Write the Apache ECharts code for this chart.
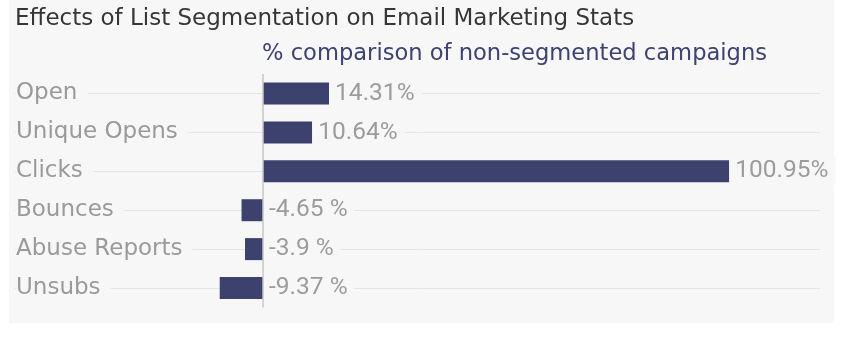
<!DOCTYPE html>
<html>
<head>
<meta charset="utf-8">
<script src="https://cdn.jsdelivr.net/npm/echarts@6/dist/echarts.min.js"></script>
<style>
  html, body { margin: 0; padding: 0; background: #ffffff; }
  #panel { position: absolute; left: 9px; top: 0; width: 825px; height: 323px; background: #f7f7f7; }
  #chart { position: absolute; left: 0; top: 0; width: 856px; height: 346px; }
</style>
</head>
<body>
<div id="panel"></div>
<div id="chart"></div>
<script>
const titleText = 'Effects of List Segmentation on Email Marketing Stats';
const subtitleText = '% comparison of non-segmented campaigns';
const categories = ['Open', 'Unique Opens', 'Clicks', 'Bounces', 'Abuse Reports', 'Unsubs'];
const values = [14.31, 10.64, 100.95, -4.65, -3.9, -9.37];
const valueLabels = ['14.31%', '10.64%', '100.95%', '-4.65 %', '-3.9 %', '-9.37 %'];

const PANEL = '#f7f7f7';
const chart = echarts.init(document.getElementById('chart'), null, { renderer: 'canvas' });

chart.setOption({
  animation: false,
  backgroundColor: 'transparent',
  graphic: [
    {
      type: 'text', x: 15, y: 19, z: 10,
      style: { text: titleText, fill: '#363636', font: '23px "DejaVu Sans"', align: 'left', verticalAlign: 'middle' }
    },
    {
      type: 'text', x: 262, y: 54, z: 10,
      style: { text: subtitleText, fill: '#3d4270', font: '22.6px "DejaVu Sans"', align: 'left', verticalAlign: 'middle' }
    }
  ],
  grid: { left: 15, right: 36, top: 74, bottom: 38.5, containLabel: false },
  xAxis: {
    type: 'value', min: -53.7, max: 120.6, show: false
  },
  yAxis: {
    type: 'category',
    data: categories,
    inverse: true,
    z: 6,
    axisLine: { show: false },
    axisTick: { show: false },
    splitLine: { show: false },
    axisLabel: {
      inside: true,
      margin: 1,
      fontFamily: 'DejaVu Sans',
      fontSize: 23,
      color: '#9a9a9a',
      backgroundColor: PANEL,
      padding: [3, 10, 1, 0]
    }
  },
  series: [
    {
      type: 'line',
      data: [],
      z: 1,
      silent: true,
      markLine: {
        silent: true,
        z: 1,
        symbol: 'none',
        label: { show: false },
        lineStyle: { color: '#e4e4e4', width: 1, type: 'solid' },
        data: categories.map(c => ({ yAxis: c }))
      }
    },
    {
      type: 'bar',
      data: values,
      z: 3,
      barWidth: 22,
      itemStyle: { color: '#3c416d' },
      label: {
        show: true,
        position: 'right',
        distance: 0,
        formatter: p => valueLabels[p.dataIndex],
        fontFamily: 'Roboto',
        fontSize: 24.5,
        color: '#9c9c9c',
        backgroundColor: PANEL,
        padding: [1, 7, 1, 6]
      },
      markLine: {
        silent: true,
        symbol: 'none',
        label: { show: false },
        lineStyle: { color: '#c6c6c6', width: 1.5, type: 'solid' },
        data: [{ xAxis: 0 }]
      }
    }
  ]
});
</script>
</body>
</html>
